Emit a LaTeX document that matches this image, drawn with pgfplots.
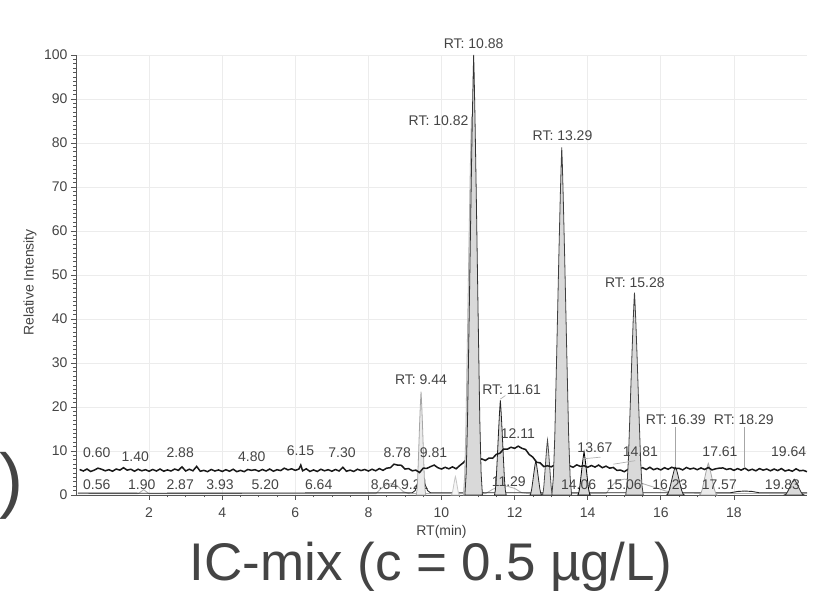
\documentclass[border=0pt]{standalone}
\usepackage{pgfplots}
\pgfplotsset{compat=1.18}
\usepackage{fontspec}
\setmainfont{Liberation Sans}
\definecolor{txt}{HTML}{444444}
\definecolor{axc}{HTML}{555555}
\definecolor{pkfill}{HTML}{D9D9D9}
\definecolor{pklight}{HTML}{EBEBEB}
\tikzset{lbl/.style={font=\fontsize{14}{16}\selectfont, text=txt, inner sep=0pt}}
\begin{document}
\begin{tikzpicture}
\path[use as bounding box] (-76pt,-99pt) rectangle (739pt,495pt);
\begin{axis}[
  scale only axis, width=731pt, height=440pt,
  xmin=0, xmax=20, ymin=0, ymax=100,
  xtick={2,4,...,18}, ytick={0,10,...,100},
  minor x tick num=3, minor y tick num=9,
  tick align=outside,
  major tick length=5pt, minor tick length=2.5pt,
  grid=major, major grid style={gray!15, line width=0.8pt},
  axis line style={axc, line width=0.8pt},
  every tick/.style={axc, line width=0.7pt},
  axis x line*=bottom, axis y line*=left,
  tick label style={font=\fontsize{14}{16}\selectfont, text=txt},
  xticklabel style={yshift=-4pt},
  /pgf/number format/assume math mode=true,
  xlabel={RT(min)}, ylabel={Relative Intensity},
  label style={font=\fontsize{14}{16}\selectfont, text=txt},
  xlabel style={at={(axis description cs:0.5,-0.0834)}, anchor=center},
  ylabel style={at={(axis description cs:-0.063,0.483)}, anchor=center},
  clip=false,
]
\node[lbl] at (axis cs:9.27,2.3) {9.21};

% lower gray trace
\addplot[gray!60, line width=0.9pt] coordinates {
(0.05,0.3)(1.7,0.3)(1.85,1.2)(2.0,0.3)(8.2,0.3)(8.35,1.5)(8.5,2.4)(8.65,2.6)(8.8,2.0)(8.95,0.8)(9.1,0.3)
(11.2,0.3)(11.4,1.3)(11.6,1.9)(11.8,2.0)(12.0,1.5)(12.2,0.5)(12.4,0.3)
(14.5,0.3)(14.65,2.0)(14.8,3.2)(15.0,3.6)(15.2,3.4)(15.5,2.6)(15.8,1.8)(16.1,1.0)(16.4,0.4)(20,0.3)};
% lower black trace
\addplot[black!85, line width=0.9pt] coordinates {
(0.05,0.45)(2,0.4)(5,0.45)(9.2,0.5)(9.28,1.0)(9.34,2.5)(9.40,3.6)(9.45,4.0)(9.50,3.5)(9.56,2.2)(9.62,1.0)(9.70,0.5)
(10.6,0.5)(10.75,0.9)(10.88,1.2)(11.0,0.9)(11.15,0.5)(17.9,0.5)(18.1,0.8)(18.3,0.9)(18.5,0.8)(18.7,0.5)(20,0.5)};

% small filled peaks
% 9.44
\addplot[fill=pklight, draw=gray!70, line width=0.8pt] coordinates {
(9.31,0)(9.33,1.18)(9.35,4.0)(9.375,9.87)(9.40,15.98)(9.42,20.21)(9.434,22.56)(9.44,23.5)(9.446,22.56)(9.46,20.21)(9.48,15.98)(9.505,9.87)(9.53,4.0)(9.55,1.18)(9.57,0)} \closedcycle;
% 10.38
\addplot[fill=gray!8, draw=gray!45, line width=0.8pt] coordinates {
(10.27,0)(10.287,0.21)(10.303,0.71)(10.325,1.76)(10.347,2.86)(10.364,3.61)(10.375,4.03)(10.38,4.2)(10.386,4.03)(10.397,3.61)(10.413,2.86)(10.435,1.76)(10.457,0.71)(10.474,0.21)(10.49,0)} \closedcycle;
% 11.61
\addplot[fill=pkfill, draw=black!85, line width=0.8pt] coordinates {
(11.45,0)(11.474,1.08)(11.498,3.66)(11.53,9.03)(11.562,14.62)(11.586,18.49)(11.602,20.64)(11.61,21.5)(11.618,20.64)(11.634,18.49)(11.658,14.62)(11.69,9.03)(11.722,3.66)(11.746,1.08)(11.77,0)} \closedcycle;
% 12.58
\addplot[fill=pkfill, draw=black!85, line width=0.8pt] coordinates {
(12.42,0)(12.444,0.39)(12.468,1.33)(12.50,3.28)(12.532,5.3)(12.556,6.71)(12.572,7.49)(12.58,7.8)(12.588,7.49)(12.604,6.71)(12.628,5.3)(12.66,3.28)(12.692,1.33)(12.716,0.39)(12.74,0)} \closedcycle;
% 12.90
\addplot[fill=pkfill, draw=black!70, line width=0.8pt] coordinates {
(12.76,0)(12.781,0.63)(12.802,2.13)(12.83,5.25)(12.858,8.5)(12.879,10.75)(12.893,12.0)(12.90,12.5)(12.907,12.0)(12.921,10.75)(12.942,8.5)(12.97,5.25)(12.998,2.13)(13.019,0.63)(13.04,0)} \closedcycle;
% 13.90
\addplot[fill=pkfill, draw=black, line width=0.8pt] coordinates {
(13.73,0)(13.756,0.49)(13.781,1.67)(13.815,4.12)(13.849,6.66)(13.875,8.43)(13.892,9.41)(13.90,9.8)(13.908,9.41)(13.925,8.43)(13.951,6.66)(13.985,4.12)(14.019,1.67)(14.044,0.49)(14.07,0)} \closedcycle;
% 16.40
\addplot[fill=pkfill, draw=black!85, line width=0.8pt] coordinates {
(16.16,0)(16.196,0.33)(16.232,1.11)(16.28,2.73)(16.328,4.42)(16.364,5.59)(16.388,6.24)(16.40,6.5)(16.412,6.24)(16.436,5.59)(16.472,4.42)(16.52,2.73)(16.568,1.11)(16.604,0.33)(16.64,0)} \closedcycle;
% 17.30
\addplot[fill=pklight, draw=gray!70, line width=0.8pt] coordinates {
(17.06,0)(17.096,0.36)(17.132,1.22)(17.18,3.02)(17.228,4.9)(17.264,6.19)(17.288,6.91)(17.30,7.2)(17.312,6.91)(17.336,6.19)(17.372,4.9)(17.42,3.02)(17.468,1.22)(17.504,0.36)(17.54,0)} \closedcycle;
% 19.65
\addplot[fill=pkfill, draw=black!80, line width=0.8pt] coordinates {
(19.38,0)(19.42,0.18)(19.46,0.61)(19.515,1.51)(19.569,2.45)(19.61,3.1)(19.637,3.46)(19.65,3.6)(19.664,3.46)(19.69,3.1)(19.731,2.45)(19.785,1.51)(19.839,0.61)(19.88,0.18)(19.92,0)} \closedcycle;

% noisy baseline trace
\addplot[black!90, line width=1.5pt] coordinates {
(0.1,5.8)(0.2,5.45)(0.3,5.9)(0.4,5.35)(0.5,5.65)(0.6,6.1)(0.7,5.85)(0.8,5.5)(0.9,5.75)(1.0,5.4)
(1.1,5.9)(1.2,5.65)(1.3,6.2)(1.4,5.65)(1.5,5.85)(1.6,5.4)(1.7,5.85)(1.8,5.5)(1.9,5.75)(2.0,5.4)
(2.1,5.8)(2.2,5.45)(2.3,5.9)(2.4,5.4)(2.5,5.7)(2.6,5.45)(2.7,5.9)(2.8,5.6)(2.9,6.4)(3.0,5.45)
(3.1,5.85)(3.2,5.5)(3.3,6.5)(3.4,5.4)(3.5,5.6)(3.6,5.3)(3.7,5.8)(3.8,5.45)(3.9,5.7)(4.0,5.35)
(4.1,5.75)(4.2,5.4)(4.3,5.85)(4.4,5.3)(4.5,5.6)(4.6,5.3)(4.7,5.8)(4.8,5.6)(4.9,5.75)(5.0,5.4)
(5.1,5.8)(5.2,5.45)(5.3,5.9)(5.4,5.4)(5.5,5.75)(5.6,5.55)(5.7,6.1)(5.8,5.7)(5.9,5.95)(6.0,5.6)
(6.1,5.9)(6.15,6.8)(6.2,5.5)(6.3,5.95)(6.4,5.35)(6.5,5.7)(6.6,5.35)(6.7,5.85)(6.8,5.5)(6.9,5.75)(7.0,5.4)
(7.1,5.8)(7.2,5.45)(7.3,6.3)(7.4,5.4)(7.5,5.65)(7.6,5.35)(7.7,5.85)(7.8,5.55)(7.9,5.8)(8.0,5.45)
(8.1,5.85)(8.2,5.5)(8.3,6.0)(8.4,5.6)(8.5,6.1)(8.6,6.2)(8.7,7.0)(8.8,6.8)(8.9,6.75)(9.0,5.9)
(9.1,6.0)(9.2,5.5)(9.3,5.65)(9.4,5.1)(9.5,6.1)(9.6,6.05)(9.7,6.45)(9.8,6.8)(9.9,6.2)(10.0,5.9)
(10.1,6.3)(10.2,5.95)(10.3,6.4)(10.4,5.95)(10.5,6.7)(10.6,7.35)(10.7,8.3)(10.8,8.1)(10.9,8.45)(11.0,7.9)
(11.1,8.2)(11.2,7.85)(11.3,8.4)(11.4,8.35)(11.5,9.25)(11.6,9.5)(11.7,10.45)(11.8,10.4)(11.9,10.85)(12.0,10.6)
(12.1,11.1)(12.2,10.6)(12.3,10.35)(12.4,9.2)(12.5,8.6)(12.6,7.45)(12.7,7.3)(12.8,6.45)(12.9,6.65)(13.0,6.4)
(13.1,6.8)(13.2,6.45)(13.3,6.9)(13.4,6.35)(13.5,6.65)(13.6,6.3)(13.7,6.85)(13.8,6.5)(13.9,6.65)(14.0,6.3)
(14.1,6.7)(14.2,6.35)(14.3,6.8)(14.4,6.2)(14.5,6.55)(14.6,6.1)(14.7,6.25)(14.8,5.6)(14.9,5.65)(15.0,5.3)
(15.1,5.8)(15.2,5.65)(15.3,6.3)(15.4,5.9)(15.5,6.2)(15.6,5.8)(15.7,6.3)(15.8,5.75)(15.9,6.05)(16.0,5.7)
(16.1,6.2)(16.2,5.85)(16.3,6.3)(16.4,6.0)(16.5,6.05)(16.6,5.7)(16.7,6.25)(16.8,5.9)(16.9,6.1)(17.0,5.75)
(17.1,6.15)(17.2,5.8)(17.3,6.25)(17.4,5.7)(17.5,5.95)(17.6,6.1)(17.7,6.15)(17.8,5.8)(17.9,6.0)(18.0,5.6)
(18.1,6.0)(18.2,5.65)(18.3,6.1)(18.4,5.55)(18.5,5.85)(18.6,5.5)(18.7,6.0)(18.8,5.65)(18.9,5.9)(19.0,5.5)
(19.1,5.9)(19.2,5.55)(19.3,6.0)(19.4,5.45)(19.5,5.7)(19.6,5.4)(19.7,5.95)(19.8,5.5)(19.9,5.6)(20.0,5.3)};

% big filled peaks
% 10.82 (second trace)
\addplot[fill=pkfill, draw=gray!60, line width=0.8pt] coordinates {
(10.60,0)(10.633,4.3)(10.666,14.6)(10.71,36.1)(10.754,58.5)(10.787,74.0)(10.809,82.6)(10.82,86)(10.831,82.6)(10.853,74.0)(10.886,58.5)(10.93,36.1)(10.974,14.6)(11.007,4.3)(11.04,0)} \closedcycle;
% 10.88
\addplot[fill=pkfill, draw=black!80, line width=0.8pt] coordinates {
(10.64,0)(10.676,5)(10.712,17)(10.76,42)(10.808,68)(10.844,86)(10.868,96)(10.88,100)(10.892,96)(10.916,86)(10.952,68)(11.00,42)(11.048,17)(11.084,5)(11.12,0)} \closedcycle;
% 13.29
\addplot[fill=pkfill, draw=black!75, line width=0.8pt] coordinates {
(13.02,0)(13.06,3.95)(13.10,13.43)(13.155,33.18)(13.209,53.72)(13.25,67.94)(13.277,75.84)(13.29,79)(13.304,75.84)(13.33,67.94)(13.371,53.72)(13.425,33.18)(13.479,13.43)(13.52,3.95)(13.56,0)} \closedcycle;
% 15.28
\addplot[fill=pkfill, draw=black!75, line width=0.8pt] coordinates {
(15.04,0)(15.076,2.3)(15.112,7.82)(15.16,19.32)(15.208,31.28)(15.244,39.56)(15.268,44.16)(15.28,46)(15.292,44.16)(15.316,39.56)(15.352,31.28)(15.40,19.32)(15.448,7.82)(15.484,2.3)(15.52,0)} \closedcycle;

% leader lines
\addplot[gray!70, line width=0.7pt] coordinates {(16.39,15.4)(16.39,6.3)};
\addplot[gray!70, line width=0.7pt] coordinates {(18.29,15.4)(18.29,6.1)};
\addplot[gray!60, line width=0.7pt] coordinates {(11.61,21.8)(11.75,22.6)};
\addplot[gray!60, line width=0.7pt] coordinates {(13.85,8.2)(14.35,8.6)};
\addplot[gray!60, line width=0.7pt] coordinates {(14.7,7.0)(15.3,7.8)};

% lower labels
\node[lbl] at (axis cs:0.57,2.3) {0.56};
\node[lbl] at (axis cs:1.80,2.3) {1.90};
\node[lbl] at (axis cs:2.85,2.3) {2.87};
\node[lbl] at (axis cs:3.94,2.3) {3.93};
\node[lbl] at (axis cs:5.18,2.3) {5.20};
\node[lbl] at (axis cs:6.64,2.3) {6.64};
\node[lbl] at (axis cs:8.44,2.3) {8.64};
\node[lbl] at (axis cs:13.75,2.3) {14.06};
\node[lbl] at (axis cs:15.0,2.3) {15.06};
\node[lbl] at (axis cs:16.25,2.3) {16.23};
\node[lbl] at (axis cs:17.6,2.3) {17.57};
\node[lbl] at (axis cs:19.33,2.3) {19.83};
\node[lbl] at (axis cs:11.84,3.0) {11.29};

% upper labels
\node[lbl] at (axis cs:10.88,102.5) {RT: 10.88};
\node[lbl, anchor=east] at (axis cs:10.74,85) {RT: 10.82};
\node[lbl] at (axis cs:13.31,81.7) {RT: 13.29};
\node[lbl] at (axis cs:15.29,48.3) {RT: 15.28};
\node[lbl] at (axis cs:16.41,17.2) {RT: 16.39};
\node[lbl] at (axis cs:18.27,17.2) {RT: 18.29};
\node[lbl] at (axis cs:9.44,26.3) {RT: 9.44};
\node[lbl] at (axis cs:11.92,24) {RT: 11.61};
\node[lbl] at (axis cs:12.09,14) {12.11};
\node[lbl] at (axis cs:14.2,10.7) {13.67};
\node[lbl] at (axis cs:15.44,9.9) {14.81};
\node[lbl] at (axis cs:17.62,9.9) {17.61};
\node[lbl] at (axis cs:19.5,9.9) {19.64};
\node[lbl] at (axis cs:9.78,9.7) {9.81};
\node[lbl] at (axis cs:8.79,9.6) {8.78};
\node[lbl] at (axis cs:0.57,9.6) {0.60};
\node[lbl] at (axis cs:1.62,8.7) {1.40};
\node[lbl] at (axis cs:2.85,9.6) {2.88};
\node[lbl] at (axis cs:4.81,8.7) {4.80};
\node[lbl] at (axis cs:6.14,10) {6.15};
\node[lbl] at (axis cs:7.28,9.6) {7.30};

% title and stray parenthesis
\node[anchor=base, font=\fontsize{53}{58}\selectfont, text=txt] at (axis description cs:0.4856,-0.1932) {IC-mix (c = 0.5 µg/L)};
\node[anchor=center, font=\fontsize{72}{80}\selectfont, text=txt] at (axis description cs:-0.0876,0.02) {)};
\end{axis}
\end{tikzpicture}
\end{document}
